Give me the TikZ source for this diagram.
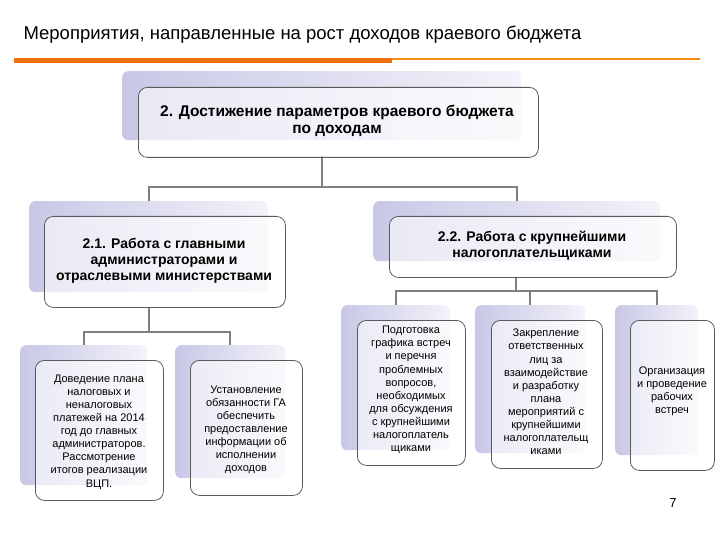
\documentclass[tikz,border=0pt]{standalone}
\usepackage{fontspec}
\setmainfont{Liberation Sans}
\begin{document}
\begin{tikzpicture}[x=1pt,y=-1pt,
  shad/.style={anchor=north west,inner sep=0pt,left color=lavA,right color=lavB,rounded corners=6pt},
  box/.style={anchor=north west,inner sep=0pt,draw=boxgray,line width=0.8pt,rounded corners=9pt,fill=white,fill opacity=0.6,text opacity=1},
  conn/.style={draw=conngray,line width=2pt},
  hd/.style={font=\bfseries\fontsize{14}{16}\selectfont,align=center},
  lf/.style={font=\fontsize{11}{13.1}\selectfont,align=center}]
\definecolor{lavA}{HTML}{C8C8E6}
\definecolor{lavB}{HTML}{F3F3FA}
\definecolor{boxgray}{HTML}{5A5A5A}
\definecolor{conngray}{HTML}{808080}
\definecolor{orng}{HTML}{F07010}
\useasboundingbox (0,0) rectangle (720,540);
\node[anchor=west,font=\fontsize{18.5}{20}\selectfont] (title) at (20,35) {Мероприятия, направленные на рост доходов краевого бюджета};
\coordinate (o1) at (14,61); \coordinate (o2) at (392,61); \coordinate (o3) at (700,59);
\draw[orng,line width=5pt] (o1) -- (o2);
\draw[orng!80!yellow,line width=2pt] (o2 |- o3) -- (o3);
% shadows
\node[shad,minimum width=399pt,minimum height=69pt] (s0) at (122,71) {};
\node[shad,minimum width=239pt,minimum height=91pt] (s21) at (29,201) {};
\node[shad,minimum width=287pt,minimum height=60pt] (s22) at (373,201) {};
\node[shad,minimum width=127pt,minimum height=140pt] (sl1) at (20,345) {};
\node[shad,minimum width=110pt,minimum height=133pt] (sl2) at (175,345) {};
\node[shad,minimum width=109pt,minimum height=145pt] (sr1) at (341,305) {};
\node[shad,minimum width=110pt,minimum height=148pt] (sr2) at (475,305) {};
\node[shad,minimum width=83pt,minimum height=150pt] (sr3) at (615,305) {};
% connectors
\draw[conn] (s0.center |- 0,156) coordinate (c0) -- (s0.center |- 0,187) coordinate (h0);
\draw[conn] (s21.north) |- (h0) -| (s22.north);
\draw[conn] (s21.center |- 0,307) -- (s21.center |- 0,332) coordinate (h1);
\draw[conn] (sl1.north) |- (h1) -| (sl2.north);
\draw[conn] (516,277) -- (516,291) coordinate (h2);
\draw[conn] (sr1.north) |- (h2) -| (sr3.north);
\draw[conn] (h2 -| sr2.north) -- (sr2.north);
% boxes
\node[box,minimum width=400pt,minimum height=70pt] (b0) at (138,87) {};
\node[hd,font=\bfseries\fontsize{15.5}{17}\selectfont] at (337,121) {2. Достижение параметров краевого бюджета\\по доходам};
\node[box,minimum width=241pt,minimum height=91pt] (b21) at (44,216) {};
\node[hd] at (164,261) {2.1. Работа с главными\\администраторами и\\отраслевыми министерствами};
\node[box,minimum width=287pt,minimum height=61pt] (b22) at (389,216) {};
\node[hd] at (532,246) {2.2. Работа с крупнейшими\\налогоплательщиками};
\node[box,minimum width=128pt,minimum height=140pt] (l1) at (35,360) {};
\node[lf] at (99,432) {Доведение плана\\налоговых и\\неналоговых\\платежей на 2014\\год до главных\\администраторов.\\Рассмотрение\\итогов реализации\\ВЦП.};
\node[box,minimum width=112pt,minimum height=135pt] (l2) at (190,360) {};
\node[lf] at (246,430) {Установление\\обязанности ГА\\обеспечить\\предоставление\\информации об\\исполнении\\доходов};
\node[box,minimum width=108pt,minimum height=145pt] (r1) at (357,320) {};
\node[lf] at (411,390) {Подготовка\\графика встреч\\и перечня\\проблемных\\вопросов,\\необходимых\\для обсуждения\\с крупнейшими\\налогоплатель\\щиками};
\node[box,minimum width=111pt,minimum height=148pt] (r2) at (491,320) {};
\node[lf] at (546,392) {Закрепление\\ответственных\\лиц за\\взаимодействие\\и разработку\\плана\\мероприятий с\\крупнейшими\\налогоплательщ\\иками};
\node[box,minimum width=84pt,minimum height=150pt] (r3) at (630,320) {};
\node[lf] at (672,391) {Организация\\и проведение\\рабочих\\встреч};
\node[font=\fontsize{13}{15}\selectfont] (pg) at (673,503) {7};
\end{tikzpicture}
\end{document}
